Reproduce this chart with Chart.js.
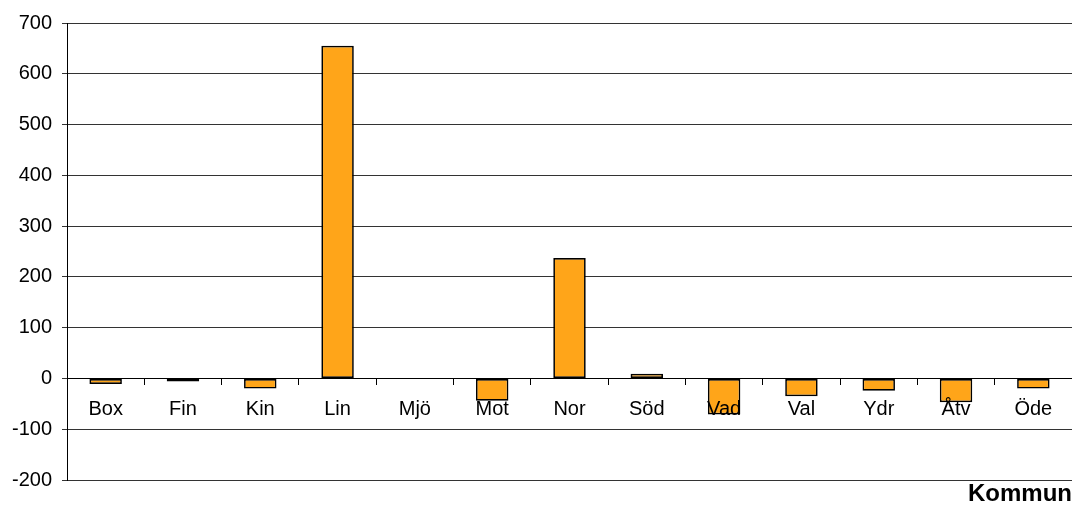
<!DOCTYPE html>
<html>
<head>
<meta charset="utf-8">
<script src="https://cdn.jsdelivr.net/npm/chart.js@4/dist/chart.umd.min.js"></script>
<style>
  html, body { margin: 0; padding: 0; background: #fff; }
  #wrap { width: 1072px; height: 507px; }
</style>
</head>
<body>
<div id="wrap"><canvas id="chart"></canvas></div>
<script>
  const kommuner = ['Box', 'Fin', 'Kin', 'Lin', 'Mjö', 'Mot', 'Nor', 'Söd', 'Vad', 'Val', 'Ydr', 'Åtv', 'Öde'];
  const forandring = [-11, -6, -20, 655, 0, -44, 237, 9, -71, -35, -24, -47, -20];
  const yMin = -200;
  const yMax = 700;
  const yStep = 100;

  const font = "'Liberation Sans', Arial, sans-serif";

  new Chart(document.getElementById('chart'), {
    type: 'bar',
    data: {
      labels: kommuner,
      datasets: [{
        data: forandring,
        backgroundColor: '#FFA519',
        borderColor: '#000',
        borderWidth: 1.7,
        borderSkipped: false,
        barPercentage: 0.42,
        categoryPercentage: 1
      }]
    },
    options: {
      responsive: true,
      maintainAspectRatio: false,
      animation: false,
      layout: { padding: { top: 23, right: 0, left: 0, bottom: 0 } },
      plugins: {
        legend: { display: false },
        tooltip: { enabled: false },
        title: {
          display: true,
          text: 'Kommun',
          position: 'bottom',
          align: 'end',
          color: '#000',
          font: { family: font, size: 24, weight: 'bold', lineHeight: 1 },
          padding: { top: 2, bottom: 1 }
        }
      },
      scales: {
        x: {
          position: { y: 0 },
          offset: true,
          grid: {
            offset: true,
            drawOnChartArea: false,
            drawTicks: true,
            tickLength: 6,
            color: '#000'
          },
          border: { display: true, color: '#000', width: 1 },
          ticks: {
            z: 1,
            color: '#000',
            font: { family: font, size: 20 },
            padding: 13,
            maxRotation: 0,
            autoSkip: false
          }
        },
        y: {
          min: yMin,
          max: yMax,
          afterFit: axis => { axis.width = 67; },
          grid: {
            color: '#333',
            lineWidth: 1,
            tickLength: 5
          },
          border: { display: true, color: '#000', width: 1 },
          ticks: {
            stepSize: yStep,
            color: '#000',
            font: { family: font, size: 20 },
            padding: 10
          }
        }
      }
    }
  });
</script>
</body>
</html>
